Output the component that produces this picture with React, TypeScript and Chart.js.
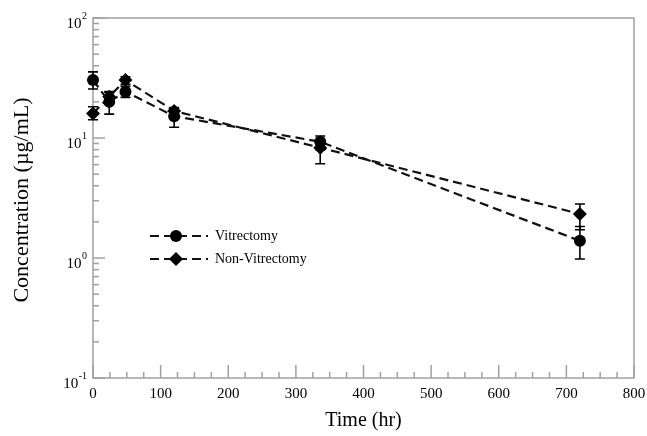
import React, { useEffect, useRef } from "react";
import { Chart, registerables } from "chart.js";

Chart.register(...registerables);

// ---- data ----
const times = [0, 24, 48, 120, 336, 720];

const vitrectomy = [30.4, 20.0, 24.3, 15.2, 9.3, 1.39];
const vitrectomyLow = [25.6, 15.8, 21.8, 12.3, 8.0, 0.98];
const vitrectomyHigh = [35.6, 24.4, 27.0, 17.5, 10.4, 1.83];

const nonVitrectomy = [16.0, 22.1, 30.4, 16.8, 8.3, 2.33];
const nonVitrectomyLow = [14.2, 19.5, 28.0, 15.0, 6.1, 1.72];
const nonVitrectomyHigh = [18.2, 24.0, 32.4, 17.9, 9.5, 2.82];

const seriesLabels = ["Vitrectomy", "Non-Vitrectomy"];
const seriesStyles = ["circle", "rectRot"];

const xTickLabels = [0, 100, 200, 300, 400, 500, 600, 700, 800];
const xMinorStep = 25;
const yMajorTicks = [0.1, 1, 10, 100];
const yExponents = ["-1", "0", "1", "2"];

const xTitle = "Time (hr)";
const yTitle = "Concentration (\u00b5g/mL)";

const FONT = '"Liberation Serif", "Times New Roman", serif';
const AXIS_GRAY = "#a0a0a0";
const DASH = [9, 5];

function drawMarker(ctx: CanvasRenderingContext2D, style: string, x: number, y: number) {
  ctx.beginPath();
  if (style === "circle") {
    ctx.arc(x, y, 6, 0, Math.PI * 2);
  } else {
    const r = 7;
    ctx.moveTo(x, y - r);
    ctx.lineTo(x + r, y);
    ctx.lineTo(x, y + r);
    ctx.lineTo(x - r, y);
    ctx.closePath();
  }
  ctx.fill();
}

const decorPlugin = {
  id: "decor",
  beforeDatasetsDraw(chart: any) {
    const { ctx, chartArea: a, scales } = chart;
    const x = scales.x;
    const y = scales.y;
    ctx.save();
    // frame
    ctx.strokeStyle = AXIS_GRAY;
    ctx.lineWidth = 1.5;
    ctx.strokeRect(a.left, a.top, a.right - a.left, a.bottom - a.top);

    // x ticks (inward)
    const xMax = xTickLabels[xTickLabels.length - 1];
    for (let t = xTickLabels[0]; t <= xMax; t += xMinorStep) {
      const px = x.getPixelForValue(t);
      const major = t % 100 === 0;
      const len = major ? 13 : 6;
      ctx.beginPath();
      ctx.moveTo(px, a.bottom);
      ctx.lineTo(px, a.bottom - len);
      ctx.stroke();
    }
    // y ticks (inward)
    for (let i = 0; i < yMajorTicks.length; i++) {
      const d = yMajorTicks[i];
      const py = y.getPixelForValue(d);
      ctx.beginPath();
      ctx.moveTo(a.left, py);
      ctx.lineTo(a.left + 12, py);
      ctx.stroke();
      if (i < yMajorTicks.length - 1) {
        for (let k = 2; k <= 9; k++) {
          const pm = y.getPixelForValue(d * k);
          ctx.beginPath();
          ctx.moveTo(a.left, pm);
          ctx.lineTo(a.left + 6, pm);
          ctx.stroke();
        }
      }
    }

    // x tick labels
    ctx.fillStyle = "#000";
    ctx.font = `15px ${FONT}`;
    ctx.textAlign = "center";
    ctx.textBaseline = "middle";
    for (const t of xTickLabels) {
      ctx.fillText(String(t), x.getPixelForValue(t), a.bottom + 16);
    }
    // y tick labels 10^n
    for (let i = 0; i < yMajorTicks.length; i++) {
      const py = y.getPixelForValue(yMajorTicks[i]);
      const right = a.left - 6;
      ctx.font = `10px ${FONT}`;
      ctx.textAlign = "right";
      const ew = ctx.measureText(yExponents[i]).width;
      ctx.fillText(yExponents[i], right, py - 2);
      ctx.font = `15px ${FONT}`;
      ctx.fillText("10", right - ew - 0.5, py + 6);
    }
    // axis titles
    ctx.font = `20px ${FONT}`;
    ctx.textAlign = "center";
    ctx.fillText(xTitle, (a.left + a.right) / 2, a.bottom + 43);
    ctx.save();
    ctx.font = `22px ${FONT}`;
    ctx.translate(22, (a.top + a.bottom) / 2 + 2);
    ctx.rotate(-Math.PI / 2);
    ctx.fillText(yTitle, 0, 0);
    ctx.restore();

    // error bars
    const lows = [vitrectomyLow, nonVitrectomyLow];
    const highs = [vitrectomyHigh, nonVitrectomyHigh];
    ctx.strokeStyle = "#000";
    ctx.lineWidth = 1.6;
    for (let s = 0; s < 2; s++) {
      for (let i = 0; i < times.length; i++) {
        const px = x.getPixelForValue(times[i]);
        const yl = y.getPixelForValue(lows[s][i]);
        const yh = y.getPixelForValue(highs[s][i]);
        ctx.beginPath();
        ctx.moveTo(px, yl);
        ctx.lineTo(px, yh);
        ctx.moveTo(px - 5, yl);
        ctx.lineTo(px + 5, yl);
        ctx.moveTo(px - 5, yh);
        ctx.lineTo(px + 5, yh);
        ctx.stroke();
      }
    }
    ctx.restore();
  },
  afterDatasetsDraw(chart: any) {
    const { ctx, chartArea: a } = chart;
    ctx.save();
    const x0 = a.left + 57;
    const rows = [a.top + 218, a.top + 241];
    for (let s = 0; s < seriesLabels.length; s++) {
      const yy = rows[s];
      ctx.strokeStyle = "#111";
      ctx.lineWidth = 2.2;
      ctx.setLineDash(DASH);
      ctx.beginPath();
      ctx.moveTo(x0, yy);
      ctx.lineTo(x0 + 58, yy);
      ctx.stroke();
      ctx.setLineDash([]);
      ctx.fillStyle = "#000";
      drawMarker(ctx, seriesStyles[s], x0 + 26, yy);
      ctx.font = `14px ${FONT}`;
      ctx.textAlign = "left";
      ctx.textBaseline = "middle";
      ctx.fillText(seriesLabels[s], x0 + 65, yy);
    }
    ctx.restore();
  },
};

export default function App() {
  const ref = useRef<HTMLCanvasElement>(null);
  useEffect(() => {
    document.body.style.margin = "0";
    const canvas = ref.current!;
    const mk = (vals: number[]) => times.map((t, i) => ({ x: t, y: vals[i] }));
    const chart = new Chart(canvas, {
      type: "line",
      data: {
        datasets: [
          {
            label: seriesLabels[0],
            data: mk(vitrectomy),
            borderColor: "#111",
            backgroundColor: "#000",
            borderWidth: 2.2,
            borderDash: DASH,
            pointStyle: seriesStyles[0] as any,
            pointRadius: 6,
            pointBorderWidth: 0,
            pointBackgroundColor: "#000",
            tension: 0,
            clip: false as any,
          },
          {
            label: seriesLabels[1],
            data: mk(nonVitrectomy),
            borderColor: "#111",
            backgroundColor: "#000",
            borderWidth: 2.2,
            borderDash: DASH,
            pointStyle: seriesStyles[1] as any,
            pointRadius: 7,
            pointBorderWidth: 0,
            pointBackgroundColor: "#000",
            tension: 0,
            clip: false as any,
          },
        ],
      },
      options: {
        responsive: false,
        animation: false,
        layout: { padding: { top: 18, right: 13, left: 0, bottom: 0 } },
        plugins: { legend: { display: false }, tooltip: { enabled: false } },
        scales: {
          x: {
            type: "linear",
            min: 0,
            max: 800,
            ticks: { display: false },
            grid: { display: false },
            border: { display: false },
            afterFit: (s: any) => {
              s.height = 58;
            },
          },
          y: {
            type: "logarithmic",
            min: 0.1,
            max: 100,
            ticks: { display: false },
            grid: { display: false },
            border: { display: false },
            afterFit: (s: any) => {
              s.width = 93;
            },
          },
        },
      },
      plugins: [decorPlugin],
    });
    return () => chart.destroy();
  }, []);
  return (
    <div style={{ width: 647, height: 436 }}>
      <canvas ref={ref} width={647} height={436} style={{ display: "block" }} />
    </div>
  );
}
